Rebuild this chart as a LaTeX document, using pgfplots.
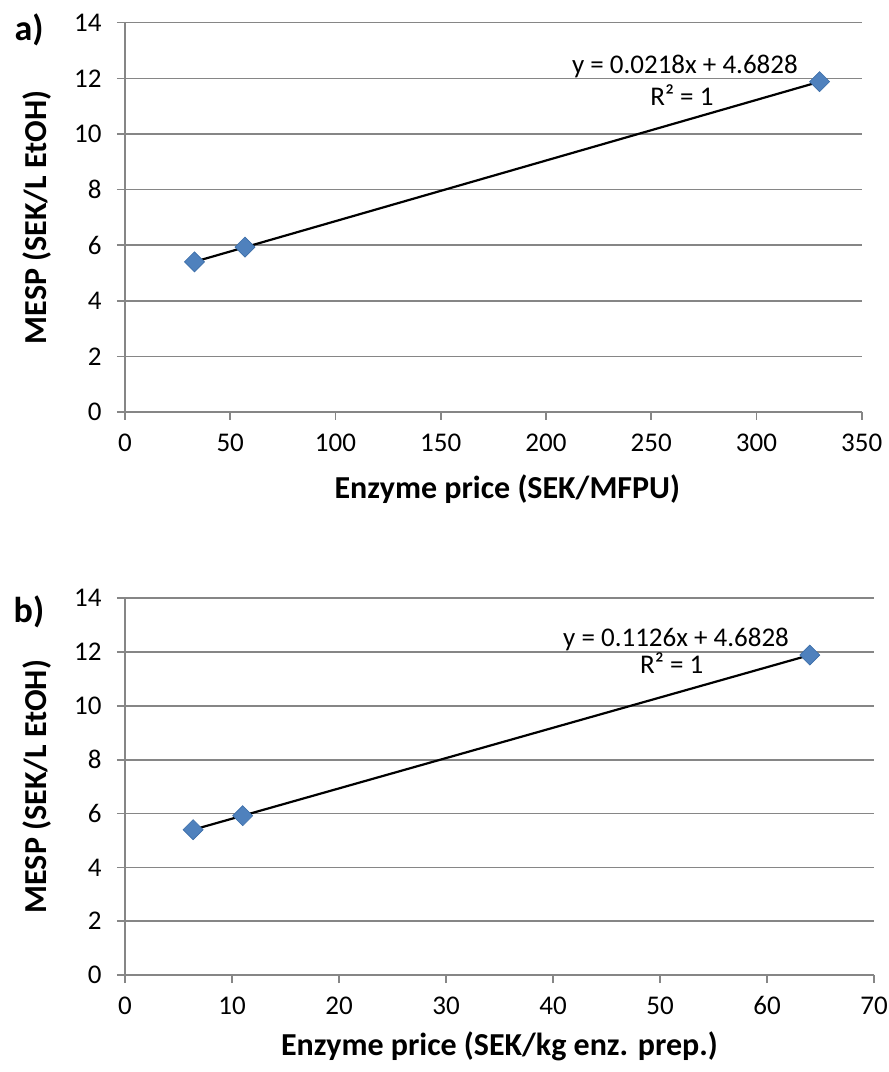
\documentclass[border=0pt]{standalone}
\usepackage{fontspec}
\setmainfont{Carlito}
\usepackage{pgfplots}
\pgfplotsset{compat=1.18}
\definecolor{gridgray}{HTML}{868686}
\definecolor{ptfill}{HTML}{4F81BD}
\definecolor{ptedge}{HTML}{3C6EA8}
\pgfplotsset{mystyle/.style={
  scale only axis,
  axis lines*=left,
  axis line style={gridgray, line width=1.6pt},
  ymajorgrids, grid style={gridgray, line width=1.6pt},
  ymin=0, ymax=14, ytick={0,2,...,14},
  tick align=outside, major tick length=8pt,
  tick style={gridgray, line width=1.6pt},
  every tick label/.append style={font=\fontsize{27}{32}\selectfont, text=black},
  yticklabel style={xshift=-12pt},
  xticklabel style={yshift=-10pt},
  /pgf/number format/assume math mode=true,
  every axis y label/.style={at={(rel axis cs:0,0.5)}, xshift=-88pt, rotate=90, anchor=center, font=\bfseries\fontsize{32}{38}\selectfont},
  every axis x label/.style={at={(rel axis cs:0.5,0)}, anchor=center, font=\bfseries\fontsize{32}{38}\selectfont},
  clip=false,
}}
\begin{document}
\begin{tikzpicture}
\useasboundingbox (0,0) rectangle (889pt,1072pt);
% panel a
\begin{axis}[mystyle, at={(125pt,660pt)}, anchor=south west,
  width=736.7pt, height=389.3pt,
  xmin=0, xmax=350, xtick={0,50,...,350},
  xlabel={Enzyme price (SEK/MFPU)}, ylabel={MESP (SEK/L EtOH)},
  xlabel style={yshift=-77pt, xshift=14pt}]
\addplot[black, line width=2.2pt] coordinates {(33,5.402) (330,11.877)};
\addplot[only marks, mark=square*, mark size=7.1pt, mark options={rotate=45, fill=ptfill, draw=ptedge, line width=0.6pt}] coordinates {(33,5.40) (57,5.93) (330,11.88)};
\node[anchor=base, font=\fontsize{27}{32}\selectfont] at (axis cs:266,12.19) {y = 0.0218x + 4.6828};
\node[anchor=base, font=\fontsize{27}{32}\selectfont] at (axis cs:264.6,11.04) {R² = 1};
\end{axis}
% panel b
\begin{axis}[mystyle, at={(125pt,97pt)}, anchor=south west,
  width=749pt, height=376.7pt,
  xmin=0, xmax=70, xtick={0,10,...,70},
  xlabel={Enzyme price (SEK/kg enz. prep.)}, ylabel={MESP (SEK/L EtOH)},
  xlabel style={yshift=-71pt}]
\addplot[black, line width=2.2pt] coordinates {(6.37,5.40) (64.0,11.89)};
\addplot[only marks, mark=square*, mark size=7.1pt, mark options={rotate=45, fill=ptfill, draw=ptedge, line width=0.6pt}] coordinates {(6.37,5.40) (11.0,5.92) (64.0,11.89)};
\node[anchor=base, font=\fontsize{27}{32}\selectfont] at (axis cs:51.5,12.2) {y = 0.1126x + 4.6828};
\node[anchor=base, font=\fontsize{27}{32}\selectfont] at (axis cs:51.1,11.19) {R² = 1};
\end{axis}
\node[font=\bfseries\fontsize{36}{42}\selectfont] at (29pt,1042pt) {a)};
\node[font=\bfseries\fontsize{36}{42}\selectfont] at (29pt,460pt) {b)};
\end{tikzpicture}
\end{document}
